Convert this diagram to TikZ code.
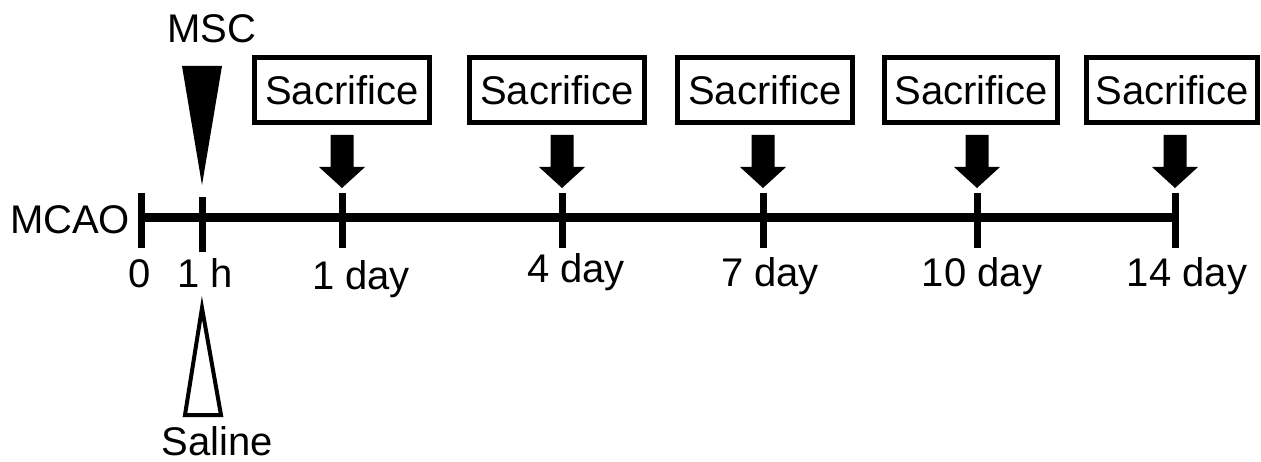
\documentclass[tikz,border=0pt]{standalone}
\usepackage{fontspec}
\setmainfont{Liberation Sans}
\begin{document}
\begin{tikzpicture}[x=1pt,y=-1pt,
  lbl/.style={font=\fontsize{40}{46}\selectfont, inner sep=0pt, anchor=base},
  sacbox/.style={draw, line width=5pt, minimum width=175pt, minimum height=65pt,
                 inner sep=0pt, font=\fontsize{40}{46}\selectfont},
  axisline/.style={line width=9pt},
  tickline/.style={line width=7pt},
  dropmark/.style={fill=black},
  hollowmark/.style={draw, line width=4pt, line join=miter, fill=white}]
\useasboundingbox (0,0) rectangle (1261,462);

% tick positions along the time axis
\foreach \n/\x in {t0/141, t1h/202, d1/342, d4/562, d7/763, d10/977, d14/1175} {
  \coordinate (\n-top) at (\x,193);
  \coordinate (\n-mid) at (\x,218);
  \coordinate (\n-bot) at (\x,248);
  \coordinate (\n-tip) at (\x,188);
}

% time axis and ticks
\draw[axisline] (t0-mid) -- (d14-mid);
\foreach \n in {t0, d1, d4, d7, d10, d14}
  \draw[tickline] (\n-top) -- (\n-bot);
\draw[tickline] ([yshift=-4pt]t1h-top) -- ([yshift=-4pt]t1h-bot);

% axis labels
\node[lbl] (mcao) at (70,234) {MCAO};
\node[lbl] (l0)   at (140,288) {0};
\node[lbl] (l1h)  at (205,288) {1 h};
\node[lbl] (l1)   at (361,290) {1 day};
\node[lbl] (l4)   at (576,283) {4 day};
\node[lbl] (l7)   at (770,287) {7 day};
\node[lbl] (l10)  at (982,287) {10 day};
\node[lbl] (l14)  at (1187,287) {14 day};

% treatment at 1 h
\node[lbl] (msc) at (212,43) {MSC};
\coordinate (msc-tip) at (202,185);
\fill (msc-tip) -- (182,66) -- (222,66) -- cycle;

\coordinate (sal-tip) at (202,308);
\draw[hollowmark] (sal-tip) -- (185,415) -- (221,415) -- cycle;
\node[lbl] (saline) at (217,455) {Saline};

% sacrifice time points
\node[sacbox] (s1) at (342,90) {Sacrifice};
\node[sacbox] (s4) at (557,90) {Sacrifice};
\node[sacbox] (s7) at (765,90) {Sacrifice};
\node[sacbox, minimum width=173pt] (s10) at (971,90) {Sacrifice};
\node[sacbox, minimum width=171pt] (s14) at (1172,90) {Sacrifice};

\foreach \n in {d1, d4, d7, d10, d14}
  \fill[dropmark] (\n-tip) -- ++(-23,-21) -- ++(11.5,0) -- ++(0,-32)
     -- ++(23,0) -- ++(0,32) -- ++(11.5,0) -- cycle;
\end{tikzpicture}
\end{document}
